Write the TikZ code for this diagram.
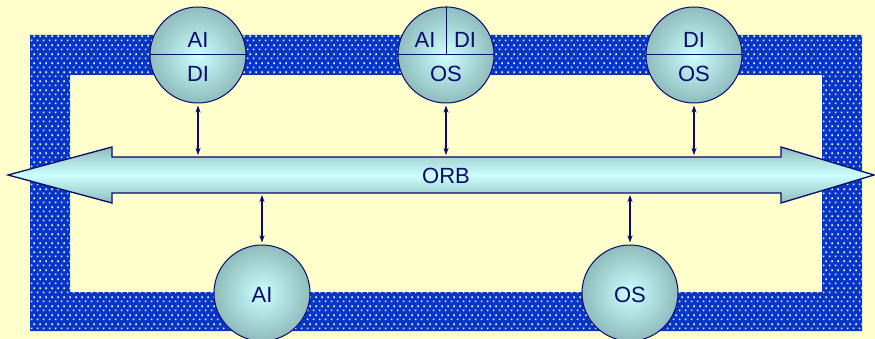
\documentclass[tikz,border=0pt]{standalone}
\usepackage{fontspec}
\setmainfont{Liberation Sans}
\usetikzlibrary{patterns,arrows.meta,calc}
\definecolor{bgy}{HTML}{FFFFCC}
\definecolor{frameblue}{HTML}{0636C8}
\definecolor{navy}{HTML}{0A0A6E}
\definecolor{lcyan}{HTML}{CCFFFF}
\definecolor{tealgray}{HTML}{8FBCBC}
\pgfdeclarepatternformonly{stagdots}{\pgfqpoint{0pt}{0pt}}{\pgfqpoint{6pt}{9pt}}{\pgfqpoint{6pt}{9pt}}{%
  \pgfpathrectangle{\pgfqpoint{1pt}{1pt}}{\pgfqpoint{1.7pt}{1.7pt}}%
  \pgfpathrectangle{\pgfqpoint{4pt}{5.5pt}}{\pgfqpoint{1.7pt}{1.7pt}}%
  \pgfusepath{fill}}
\tikzset{
  circ/.style={circle, draw=navy, line width=1pt, minimum size=96pt, inner sep=0pt,
    inner color=lcyan, outer color=tealgray},
  lbl/.style={text=navy, font=\fontsize{22}{24}\selectfont, inner sep=0pt},
  link/.style={draw=navy, line width=1.1pt, {Stealth[length=7pt,width=5pt,inset=2pt]}-{Stealth[length=7pt,width=5pt,inset=2pt]}},
  divider/.style={draw=navy, line width=1pt}
}
\begin{document}
\begin{tikzpicture}[x=1pt,y=-1pt]
\useasboundingbox (0,0) rectangle (875,339);
\fill[bgy] (0,0) rectangle (875,339);
% frame
\fill[frameblue, even odd rule] (30,35) rectangle (862,331) (70,75) rectangle (822,292);
\fill[pattern=stagdots, pattern color=white, even odd rule] (30,35) rectangle (862,331) (70,75) rectangle (822,292);
% big arrow
\coordinate (st) at (0,157);
\coordinate (sb) at (0,193);
\path[draw=navy, line width=1.3pt, top color=tealgray, bottom color=tealgray, middle color=lcyan, shading angle=0]
  (8,175) -- (112,147) -- (112,157) -- (781,157) -- (781,147) -- (874,175)
  -- (781,203) -- (781,193) -- (112,193) -- (112,203) -- cycle;
\node[lbl] (orb) at (446,176) {ORB};
% circles
\node[circ] (c1) at (198,55) {};
\node[circ] (c2) at (446,55) {};
\node[circ] (c3) at (694,55) {};
\node[circ] (c4) at (262,293) {};
\node[circ] (c5) at (630,293) {};
\draw[divider] (c1.west) -- (c1.east);
\draw[divider] (c2.west) -- (c2.east);
\draw[divider] (c2.north) -- (c2.center);
\draw[divider] (c3.west) -- (c3.east);
\node[lbl] (t1a) at (198,40) {AI};
\node[lbl] (t1b) at (198,74) {DI};
\node[lbl] (t2a) at (425,40) {AI};
\node[lbl] (t2b) at (465,40) {DI};
\node[lbl] (t2c) at (446,74) {OS};
\node[lbl] (t3a) at (694,40) {DI};
\node[lbl] (t3b) at (694,74) {OS};
\node[lbl] (t4) at (262,295) {AI};
\node[lbl] (t5) at (630,295) {OS};
% links
\draw[link, shorten <=2pt, shorten >=2pt] (c1.south) -- (c1.south |- st);
\draw[link, shorten <=2pt, shorten >=2pt] (c2.south) -- (c2.south |- st);
\draw[link, shorten <=2pt, shorten >=2pt] (c3.south) -- (c3.south |- st);
\draw[link, shorten <=2pt, shorten >=2pt] (c4.north) -- (c4.north |- sb);
\draw[link, shorten <=2pt, shorten >=2pt] (c5.north) -- (c5.north |- sb);
\end{tikzpicture}
\end{document}
